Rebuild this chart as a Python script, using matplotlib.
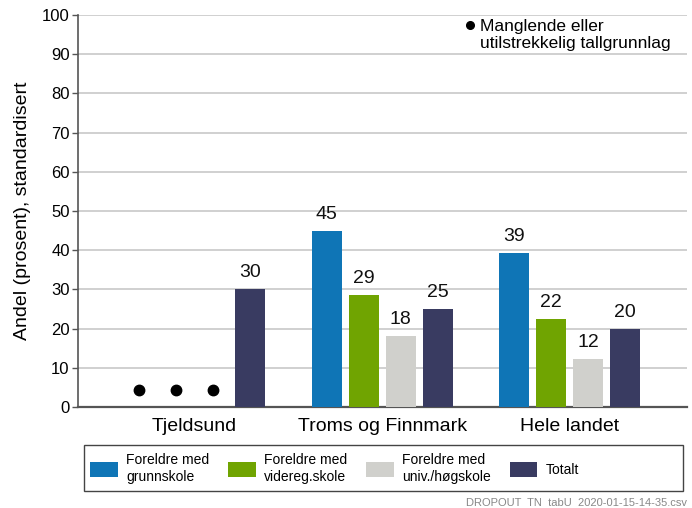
import matplotlib
matplotlib.use("Agg")
import matplotlib.pyplot as plt
import numpy as np
from matplotlib.patches import Patch, Rectangle
from matplotlib.lines import Line2D

plt.rcParams['font.family'] = ['Liberation Sans', 'DejaVu Sans']

categories = ["Tjeldsund", "Troms og Finnmark", "Hele landet"]
series_names = ["Foreldre med\ngrunnskole", "Foreldre med\nvidereg.skole",
                "Foreldre med\nuniv./høgskole", "Totalt"]
colors = ["#0f75b6", "#70a401", "#d0d0cc", "#393b61"]
# None = missing/insufficient data
values = [
    [None, 44.9, 39.4],
    [None, 28.6, 22.4],
    [None, 18.1, 12.2],
    [30.1, 25.0, 19.9],
]
missing_marker_y = 4.3
yticks = list(range(0, 101, 10))
note_text = "Manglende eller\nutilstrekkelig tallgrunnlag"
footer = "DROPOUT  TN  tabU  2020-01-15-14-35.csv"
ylabel = "Andel (prosent), standardisert"

W, H = 692, 508
fig = plt.figure(figsize=(W/100, H/100), dpi=100)
ax = fig.add_axes([78/W, 1-407/H, (687-78)/W, (407-15)/H])

x = np.arange(len(categories))
width = 0.16
step = 0.197
offsets = (np.arange(len(series_names)) - 1.5) * step

for i, (name, col, vals) in enumerate(zip(series_names, colors, values)):
    for j, v in enumerate(vals):
        xp = x[j] + offsets[i]
        if v is None:
            ax.plot(xp, missing_marker_y, 'o', color='black', markersize=7.5, zorder=4)
        else:
            ax.bar(xp, v, width=width, color=col, zorder=3, edgecolor='none')
            ax.text(xp, v + 2.0, f"{v:.0f}", ha='center', va='bottom', fontsize=14, color='#111111', zorder=5)

ax.set_xlim(-0.622, 2.626)
ax.set_ylim(0, 100)
ax.set_yticks(yticks)
ax.set_yticklabels([str(t) for t in yticks], fontsize=12)
ax.set_xticks(x)
ax.set_xticklabels(categories, fontsize=14)
ax.tick_params(axis='x', length=0, pad=8)
ax.tick_params(axis='y', length=4, width=1, color='#555555', pad=2)
ax.yaxis.grid(True, color='#c8c8c8', linewidth=1.2, zorder=0)
ax.set_axisbelow(True)
for s in ['top', 'right']:
    ax.spines[s].set_visible(False)
ax.spines['left'].set_color('#555555')
ax.spines['left'].set_linewidth(1.2)
ax.spines['bottom'].set_color('#555555')
ax.spines['bottom'].set_linewidth(1.6)
ax.set_ylabel(ylabel, fontsize=14, labelpad=8)

# note
fig.add_artist(Line2D([470.5/W], [1-25/H], marker='o', color='black', markersize=5.5,
                      linestyle='none', transform=fig.transFigure))
fig.text(480/W, 1-35/H, note_text, fontsize=12.5, ha='left', va='center', linespacing=1.15)

# legend frame
fig.add_artist(Rectangle((84/W, 1-491/H), (683-84)/W, (491-445)/H, transform=fig.transFigure,
                         facecolor='white', edgecolor='#444444', linewidth=1.0, zorder=1))
handles = [Patch(facecolor=c, edgecolor='none') for c in colors]
leg = fig.legend(handles, series_names, loc='center left',
                 bbox_to_anchor=(90/W, 1-468.5/H), borderaxespad=0, borderpad=0,
                 ncol=4, fontsize=10, frameon=False,
                 handlelength=2.0, handleheight=1.3,
                 handletextpad=0.62, columnspacing=1.33, labelspacing=0.2)
leg.set_zorder(2)
for t in leg.get_texts():
    t.set_linespacing(1.2)

fig.text(687/W, 1-503/H, footer, fontsize=8, color='#888888', ha='right', va='center')

fig.savefig("out.png", dpi=100)
